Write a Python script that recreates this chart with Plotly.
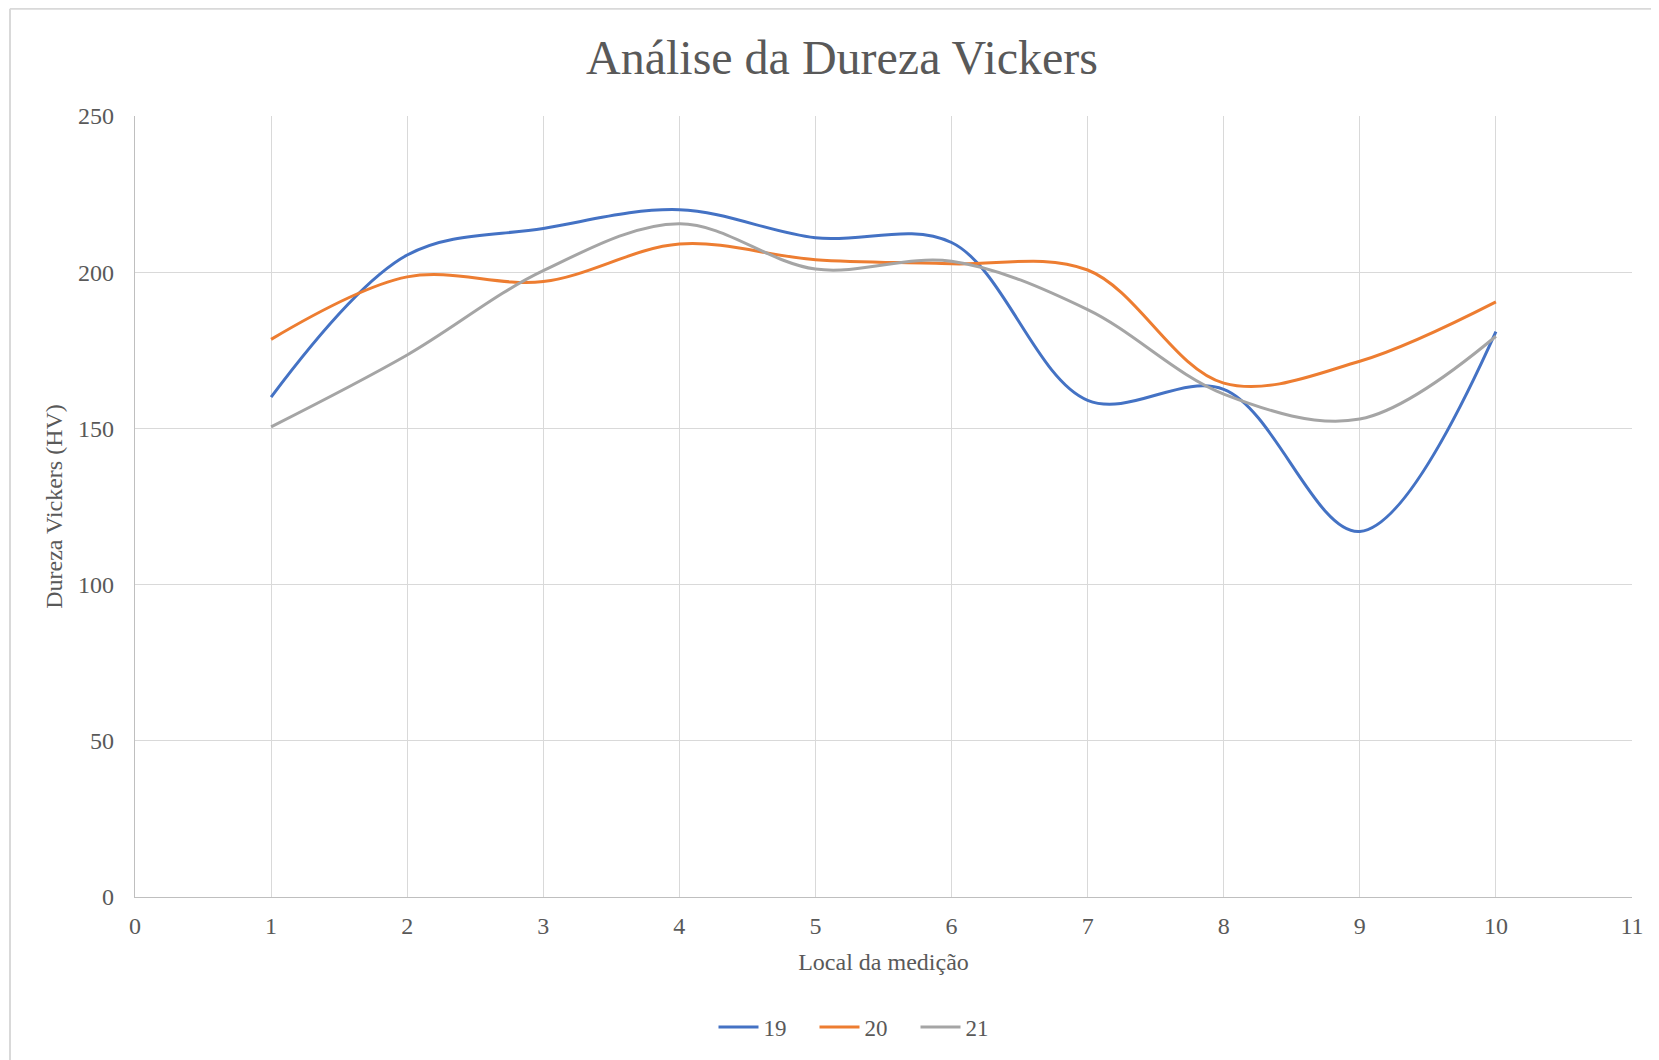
import plotly.graph_objects as go

x_vals = [1, 2, 3, 4, 5, 6, 7, 8, 9, 10]
s19 = [160, 205.5, 214, 220, 211, 209.5, 159, 162.5, 117, 181]
s20 = [178.5, 198.5, 197, 209, 204, 202.7, 200.7, 164.5, 171.5, 190.5]
s21 = [150.5, 173.5, 200.5, 215.5, 201, 203.5, 188, 161, 153, 179.5]
series_names = ["19", "20", "21"]
colors = ["#4472C4", "#ED7D31", "#A5A5A5"]

FONT = "Liberation Serif, Times New Roman, serif"
TXT = "#595959"

W, H = 1651, 1052          # page body has an 8px margin
L, T, R_EDGE, B_EDGE = 127, 108, 1624, 889
PW, PH = R_EDGE - L, B_EDGE - T

fig = go.Figure()
for name, ys, c in zip(series_names, [s19, s20, s21], colors):
    fig.add_trace(go.Scatter(
        x=x_vals, y=ys, name=name, mode="lines",
        line=dict(color=c, width=3, shape="spline", smoothing=1.0),
    ))

fig.update_layout(
    width=W, height=H,
    paper_bgcolor="white", plot_bgcolor="white",
    margin=dict(l=L, r=W - R_EDGE, t=T, b=H - B_EDGE),
    font=dict(family=FONT, color=TXT, size=24),
    title=dict(text="Análise da Dureza Vickers", x=834 / W, xanchor="center",
               xref="container", y=1 - 49 / H, yanchor="middle", yref="container",
               font=dict(family=FONT, size=48, color=TXT)),
    legend=dict(orientation="h", x=(857 - L) / PW, xanchor="center",
                y=(B_EDGE - 1019) / PH, yanchor="middle",
                font=dict(family=FONT, size=23, color=TXT),
                itemwidth=40, entrywidth=46, bgcolor="rgba(0,0,0,0)"),
    showlegend=True,
)
fig.update_xaxes(
    range=[0, 11], dtick=1, tick0=0, showgrid=True, gridcolor="#D9D9D9", gridwidth=1.3,
    showline=True, linecolor="#BFBFBF", linewidth=1.3, zeroline=False, ticks="",
    ticklabelstandoff=7,
    tickfont=dict(family=FONT, size=24, color=TXT),
    title=dict(text="Local da medição", standoff=15, font=dict(family=FONT, size=24, color=TXT)),
)
fig.update_yaxes(
    range=[0, 250], dtick=50, tick0=0, showgrid=True, gridcolor="#D9D9D9", gridwidth=1.3,
    showline=True, linecolor="#BFBFBF", linewidth=1.3, zeroline=False, ticks="",
    ticklabelstandoff=15,
    tickfont=dict(family=FONT, size=24, color=TXT),
    title=dict(text="Dureza Vickers (HV)", standoff=8, font=dict(family=FONT, size=24, color=TXT)),
)
# outer chart border (left and top visible)
bx = (2 - L) / PW
by = (B_EDGE - 0.8) / PH
fig.add_shape(type="line", xref="paper", yref="paper",
              x0=bx, x1=bx, y0=(B_EDGE - H - 10) / PH, y1=by,
              line=dict(color="#D9D9D9", width=2))
fig.add_shape(type="line", xref="paper", yref="paper",
              x0=bx, x1=(W + 10 - L) / PW, y0=by, y1=by,
              line=dict(color="#D9D9D9", width=2))

fig.write_html("out.html")
